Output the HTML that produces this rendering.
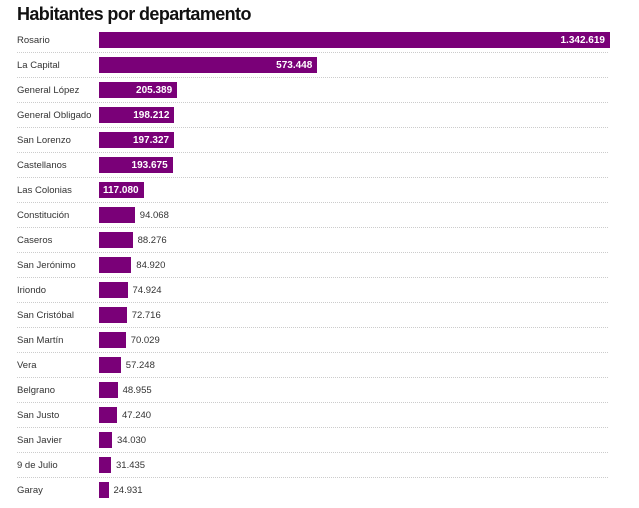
<!DOCTYPE html><html><head><meta charset="utf-8"><style>
body{margin:0;width:639px;height:508px;background:#fff;font-family:"Liberation Sans",sans-serif;overflow:hidden;position:relative}
h1{position:absolute;left:17px;top:4px;margin:0;font-size:18px;font-weight:bold;color:#111;letter-spacing:-0.6px}
.r{position:absolute;left:17px;width:591px;height:25px;border-bottom:1px dotted #ccc;box-sizing:border-box}
.r.last{border-bottom:none}
.l{position:absolute;left:0;top:7px;font-size:9.5px;color:#333}
.b{position:absolute;left:82px;top:0px;height:16px;background:#7a0078}
.v{position:absolute;top:7px;font-size:9.5px;color:#333}
.i{position:absolute;display:block;right:5px;top:0;height:16px;line-height:17px;font-size:10px;font-weight:bold;color:#fff}
</style></head><body>
<h1>Habitantes por departamento</h1>
<div id="c"></div>
<script>
var d=[["Rosario",1342619,"1.342.619"],["La Capital",573448,"573.448"],["General López",205389,"205.389"],["General Obligado",198212,"198.212"],["San Lorenzo",197327,"197.327"],["Castellanos",193675,"193.675"],["Las Colonias",117080,"117.080"],["Constitución",94068,"94.068"],["Caseros",88276,"88.276"],["San Jerónimo",84920,"84.920"],["Iriondo",74924,"74.924"],["San Cristóbal",72716,"72.716"],["San Martín",70029,"70.029"],["Vera",57248,"57.248"],["Belgrano",48955,"48.955"],["San Justo",47240,"47.240"],["San Javier",34030,"34.030"],["9 de Julio",31435,"31.435"],["Garay",24931,"24.931"]];
var h="";d.forEach(function(e,k){var w=e[1]/1342619*511;var y=28+k*25;
h+='<div class="r'+(k==d.length-1?' last':'')+'" style="top:'+y+'px"><span class="l">'+e[0]+'</span><div class="b" style="top:4px;width:'+w.toFixed(1)+'px">'+(e[1]>=100000?'<span class="i">'+e[2]+'</span>':'')+'</div>'+(e[1]<100000?'<span class="v" style="left:'+(82+w+5).toFixed(1)+'px">'+e[2]+'</span>':'')+'</div>';});
document.getElementById("c").innerHTML=h;
</script>
</body></html>
